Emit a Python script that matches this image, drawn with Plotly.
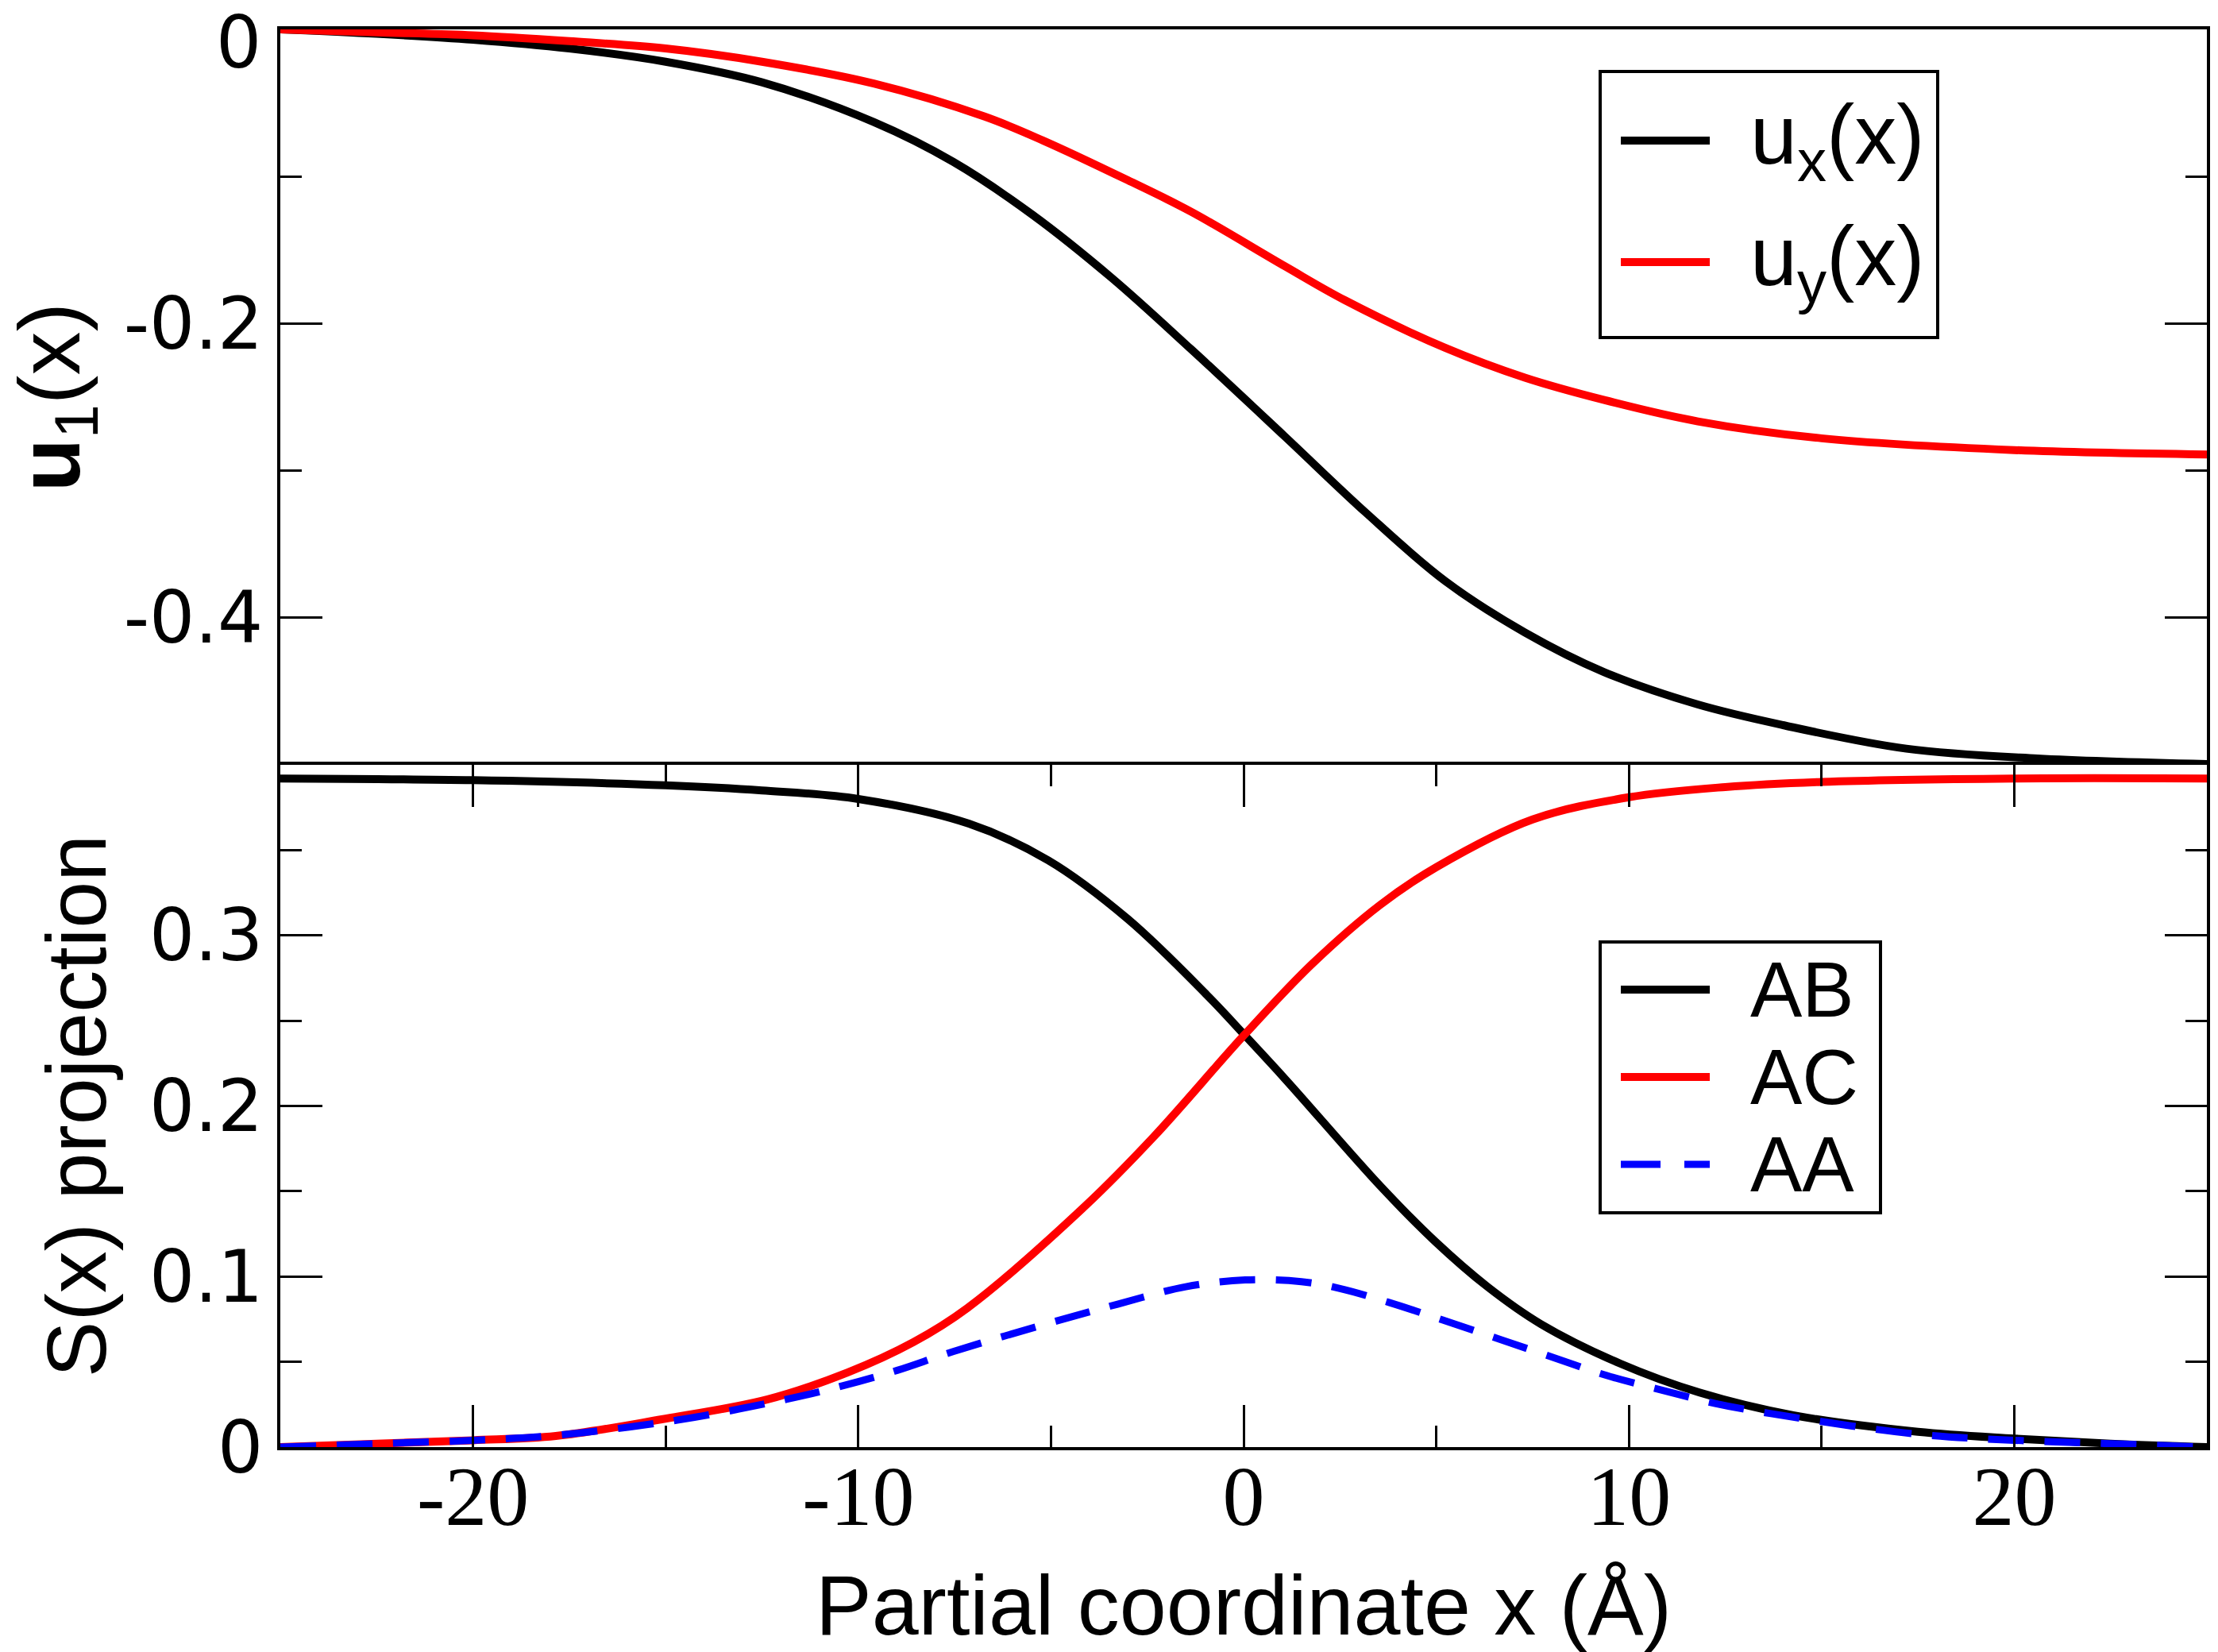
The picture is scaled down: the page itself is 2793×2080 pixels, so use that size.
import plotly.graph_objects as go

# ---------------- data ----------------
# top panel: displacement components
ux_x = [-25, -22.5, -20, -17.5, -15, -12.5, -9.6, -7.54, -5.48, -3.42, -1.36, 1.06,
        3.17, 5.23, 7.30, 9.36, 11.79, 14.0, 17.2, 20.6, 25]
ux_y = [0.000, -0.003, -0.007, -0.013, -0.022, -0.036, -0.063, -0.090, -0.126, -0.169, -0.2175, -0.2765,
        -0.3285, -0.375, -0.410, -0.437, -0.459, -0.473, -0.489, -0.4957, -0.4995]

uy_x = [-25, -22.5, -20, -17.5, -15, -12.5, -9.6, -6.72, -5.21, -3.01, -1.36, 1.07,
        2.62, 5.23, 7.30, 9.36, 11.79, 15, 20, 25]
uy_y = [0.000, -0.002, -0.004, -0.008, -0.013, -0.022, -0.0368, -0.0593, -0.0755, -0.1025, -0.124, -0.161,
        -0.184, -0.2165, -0.2368, -0.252, -0.2665, -0.278, -0.286, -0.289]

# bottom panel: S(x) projections
ab_x = [-25, -20, -15, -12.5, -10, -7.13, -5.07, -3.01, -0.95, 0.02, 1.11, 3.55,
        4.97, 6.33, 7.71, 9.77, 11.83, 14.26, 17.5, 20, 22.5, 25]
ab_y = [0.392, 0.391, 0.388, 0.385, 0.380, 0.3655, 0.344, 0.3097, 0.265, 0.2417, 0.215, 0.153,
        0.1206, 0.094, 0.0722, 0.049, 0.032, 0.0187, 0.009, 0.005, 0.002, 0.000]

ac_x = [-25, -22.5, -20, -17.85, -15.1, -12.35, -10.28, -8.57, -7.17, -4.1, -2.33, 0.02,
        1.79, 3.55, 5, 7.5, 10, 12.5, 15, 20, 25]
ac_y = [0.000, 0.002, 0.004, 0.0065, 0.0163, 0.028, 0.0437, 0.0615, 0.0815, 0.1416, 0.182, 0.2417,
        0.2835, 0.318, 0.340, 0.368, 0.381, 0.387, 0.390, 0.392, 0.392]

aa_x = [-25, -22.5, -20, -17.8, -14.7, -11.87, -10.39, -8.99, -7.54, -5, -3.27, -1.5,
        0.04, 1.5, 2.5, 3.79, 5.17, 6.57, 7.98, 9.42, 10.84, 12.24, 13.69, 17.5, 20, 22.5, 25]
aa_y = [0.000, 0.002, 0.004, 0.007, 0.0158, 0.028, 0.036, 0.045, 0.056, 0.073, 0.0838, 0.094,
        0.098, 0.097, 0.093, 0.0847, 0.0745, 0.0638, 0.053, 0.042, 0.0335, 0.0256, 0.0196, 0.0075, 0.004, 0.002, 0.000]

x_ticks = [-20, -10, 0, 10, 20]
x_ticktext = ["-20", "-10", "0", "10", "20"]
x_minor = [-15, -5, 5, 15]
u_ticks = [-0.2, -0.4]
u_ticktext = ["-0.2", "-0.4"]
u_top_label = "0"          # label of the u = 0 tick at the top edge
u_minor = [-0.1, -0.3]
s_ticks = [0, 0.1, 0.2, 0.3]
s_ticktext = ["0", "0.1", "0.2", "0.3"]
s_minor = [0.05, 0.15, 0.25, 0.35]

top_names = ["u<sub>x</sub>(x)", "u<sub>y</sub>(x)"]
bottom_names = ["AB", "AC", "AA"]

# ---------------- styling ----------------
BLACK, RED, BLUE = "#000000", "#ff0000", "#0000ff"
LW = 10
W, H = 2793, 2080
L, R, T, B = 353, 14, 37, 258
PW, PH = W - L - R, H - T - B
SPLIT = 963
bot_frac = (H - B - SPLIT) / PH

SANS = "Liberation Sans, Arial, Helvetica, sans-serif"
SERIF = "Liberation Serif, Times New Roman, serif"
TICKSANS = "DejaVu Sans, sans-serif"
TICKSIZE = 90

def fx(p):
    return (p - L) / PW

def fy(p):
    return (H - B - p) / PH

fig = go.Figure()

fig.add_trace(go.Scatter(x=ux_x, y=ux_y, mode="lines", name=top_names[0],
                         line=dict(color=BLACK, width=LW, shape="spline"),
                         xaxis="x2", yaxis="y2", showlegend=False))
fig.add_trace(go.Scatter(x=uy_x, y=uy_y, mode="lines", name=top_names[1],
                         line=dict(color=RED, width=LW, shape="spline"),
                         xaxis="x2", yaxis="y2", showlegend=False))
fig.add_trace(go.Scatter(x=ab_x, y=ab_y, mode="lines", name=bottom_names[0],
                         line=dict(color=BLACK, width=LW, shape="spline"),
                         xaxis="x", yaxis="y", showlegend=False))
fig.add_trace(go.Scatter(x=ac_x, y=ac_y, mode="lines", name=bottom_names[1],
                         line=dict(color=RED, width=LW, shape="spline"),
                         xaxis="x", yaxis="y", showlegend=False))
fig.add_trace(go.Scatter(x=aa_x, y=aa_y, mode="lines", name=bottom_names[2],
                         line=dict(color=BLUE, width=9, shape="spline", dash="45px,26px"),
                         xaxis="x", yaxis="y", showlegend=False))

axis_common = dict(showline=True, linecolor="black", linewidth=3.5, mirror="ticks",
                   showgrid=False, zeroline=False, ticks="inside", ticklen=53,
                   tickwidth=3, tickcolor="black", automargin=False)

fig.update_layout(
    width=W, height=H,
    margin=dict(l=L, r=R, t=T, b=B, pad=0, autoexpand=False),
    paper_bgcolor="white", plot_bgcolor="white",
    xaxis=dict(domain=[0, 1], range=[-25, 25], anchor="y",
               tickmode="array", tickvals=x_ticks, ticktext=x_ticktext,
               tickfont=dict(family=SERIF, size=106, color="black"),
               ticklabelstandoff=-33,
               minor=dict(tickvals=x_minor, ticks="inside", ticklen=27, tickwidth=3, tickcolor="black"),
               title=dict(text="Partial coordinate x (Å)", font=dict(family=SANS, size=106, color="black"), standoff=53),
               **axis_common),
    yaxis=dict(domain=[0, bot_frac], range=[0, 0.4], anchor="x",
               tickmode="array", tickvals=s_ticks, ticktext=s_ticktext,
               tickfont=dict(family=TICKSANS, size=TICKSIZE, color="black"),
               minor=dict(tickvals=s_minor, ticks="inside", ticklen=27, tickwidth=3, tickcolor="black"),
               title=dict(text="S(x) projection", font=dict(family=SANS, size=106, color="black"), standoff=20),
               **axis_common),
    xaxis2=dict(domain=[0, 1], range=[-25, 25], anchor="y2", matches="x", side="top",
                showline=True, linecolor="black", linewidth=3.5, mirror=False,
                showgrid=False, zeroline=False, ticks="", showticklabels=False, automargin=False),
    yaxis2=dict(domain=[bot_frac, 1], range=[-0.5, 0], anchor="x2",
                tickmode="array", tickvals=u_ticks, ticktext=u_ticktext,
                tickfont=dict(family=TICKSANS, size=TICKSIZE, color="black"),
                minor=dict(tickvals=u_minor, ticks="inside", ticklen=27, tickwidth=3, tickcolor="black"),
                title=dict(text="<b>u</b><sub>1</sub>(x)", font=dict(family=SANS, size=110, color="black"), standoff=44),
                **axis_common),
)

# ---------------- manual legends ----------------
shapes = []
annotations = []

def legend_box(x0, y0, x1, y1):
    shapes.append(dict(type="rect", xref="paper", yref="paper",
                       x0=fx(x0), x1=fx(x1), y0=fy(y1), y1=fy(y0),
                       line=dict(color="black", width=4), fillcolor="rgba(0,0,0,0)", layer="above"))

def legend_item(y, color, dash, text, size, width=LW):
    shapes.append(dict(type="line", xref="paper", yref="paper",
                       x0=fx(2041), x1=fx(2153), y0=fy(y), y1=fy(y),
                       line=dict(color=color, width=width, dash=dash), layer="above"))
    annotations.append(dict(xref="paper", yref="paper", x=fx(2203), y=fy(y), text=text,
                            showarrow=False, xanchor="left", yanchor="middle", borderpad=0,
                            font=dict(family=SANS, size=size, color="black")))

legend_box(2015, 90, 2440, 425)
legend_item(177, BLACK, "solid", top_names[0], 106)
legend_item(330, RED, "solid", top_names[1], 106)

legend_box(2015, 1186, 2368, 1527)
legend_item(1246, BLACK, "solid", bottom_names[0], 98)
legend_item(1356, RED, "solid", bottom_names[1], 98)
legend_item(1466, BLUE, "50px,30px", bottom_names[2], 98, width=9)

# "0" label of the top panel, kept just inside the top edge like in the reference
annotations.append(dict(xref="paper", yref="paper", x=fx(330), y=fy(0), text=u_top_label,
                        showarrow=False, xanchor="right", yanchor="top", borderpad=0,
                        font=dict(family=TICKSANS, size=TICKSIZE, color="black")))

fig.update_layout(shapes=shapes, annotations=annotations)

fig.write_html("out.html")
